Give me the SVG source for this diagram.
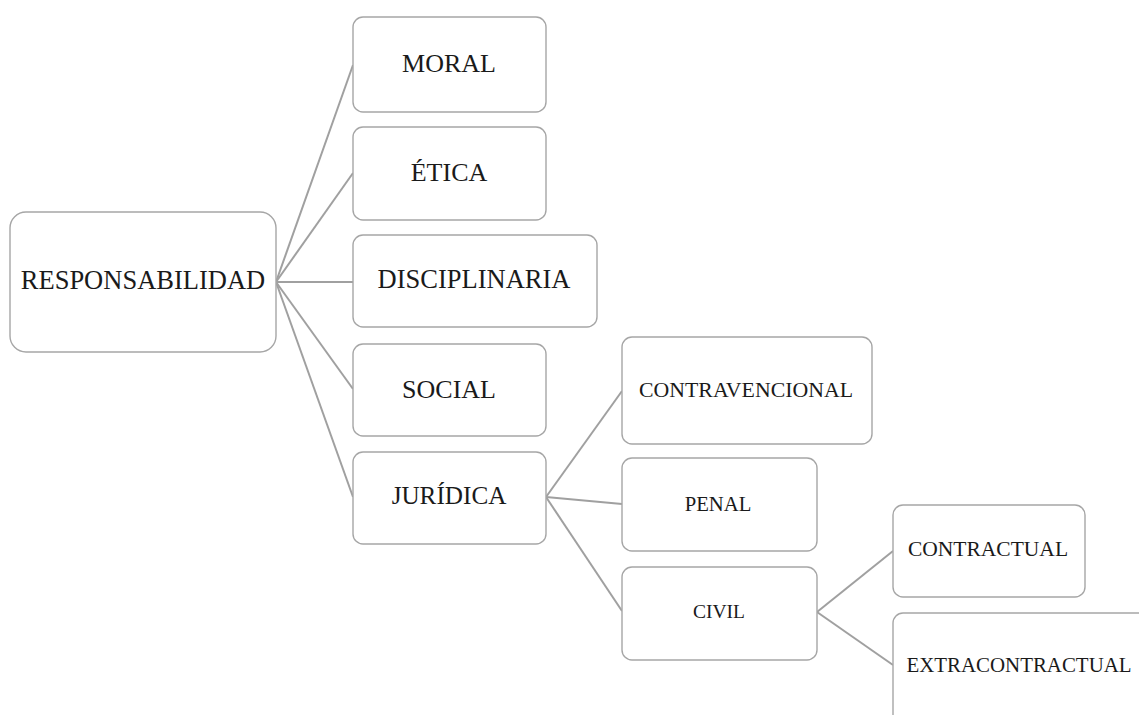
<svg xmlns="http://www.w3.org/2000/svg" width="1139" height="715" viewBox="0 0 1139 715">
<style>
.box{fill:#fff;stroke:#a6a6a6;stroke-width:1.4}
.lbl{font-family:"Liberation Serif","Times New Roman",serif;fill:#1a1a1a;text-anchor:middle}
.conn line{stroke:#a0a0a0;stroke-width:2;fill:none}
</style>
<rect width="1139" height="715" fill="#fff"/>
<g id="connectors" class="conn">
<line x1="276" y1="282" x2="353" y2="65"/>
<line x1="276" y1="282" x2="353" y2="173"/>
<line x1="276" y1="282" x2="353" y2="282"/>
<line x1="276" y1="282" x2="353" y2="389"/>
<line x1="276" y1="282" x2="353" y2="497"/>
<line x1="546" y1="497" x2="622" y2="391"/>
<line x1="546" y1="497" x2="622" y2="504"/>
<line x1="546" y1="497" x2="622" y2="611"/>
<line x1="817" y1="612" x2="893" y2="551"/>
<line x1="817" y1="612" x2="893" y2="665"/>
</g>
<g id="responsabilidad">
<rect class="box" x="10" y="212" width="266" height="140" rx="16"/>
<text class="lbl" x="143" y="289" font-size="26.5">RESPONSABILIDAD</text>
</g>
<g id="moral">
<rect class="box" x="353" y="17" width="193" height="95" rx="10"/>
<text class="lbl" x="449" y="72" font-size="26">MORAL</text>
</g>
<g id="etica">
<rect class="box" x="353" y="127" width="193" height="93" rx="10"/>
<text class="lbl" x="449" y="181" font-size="26">ÉTICA</text>
</g>
<g id="disciplinaria">
<rect class="box" x="353" y="235" width="244" height="92" rx="10"/>
<text class="lbl" x="474" y="288" font-size="26.5">DISCIPLINARIA</text>
</g>
<g id="social">
<rect class="box" x="353" y="344" width="193" height="92" rx="10"/>
<text class="lbl" x="449" y="398" font-size="26">SOCIAL</text>
</g>
<g id="juridica">
<rect class="box" x="353" y="452" width="193" height="92" rx="10"/>
<text class="lbl" x="449" y="504" font-size="25.2">JURÍDICA</text>
</g>
<g id="contravencional">
<rect class="box" x="622" y="337" width="250" height="107" rx="10"/>
<text class="lbl" x="746" y="397" font-size="21.8">CONTRAVENCIONAL</text>
</g>
<g id="penal">
<rect class="box" x="622" y="458" width="195" height="93" rx="10"/>
<text class="lbl" x="718" y="510.5" font-size="20.7">PENAL</text>
</g>
<g id="civil">
<rect class="box" x="622" y="567" width="195" height="93" rx="10"/>
<text class="lbl" x="719" y="618" font-size="19.5">CIVIL</text>
</g>
<g id="contractual">
<rect class="box" x="893" y="505" width="192" height="92" rx="10"/>
<text class="lbl" x="988" y="556" font-size="21.5">CONTRACTUAL</text>
</g>
<g id="extracontractual">
<rect class="box" x="893" y="613" width="260" height="130" rx="10"/>
<text class="lbl" x="1019" y="672" font-size="20.9">EXTRACONTRACTUAL</text>
</g>
</svg>
